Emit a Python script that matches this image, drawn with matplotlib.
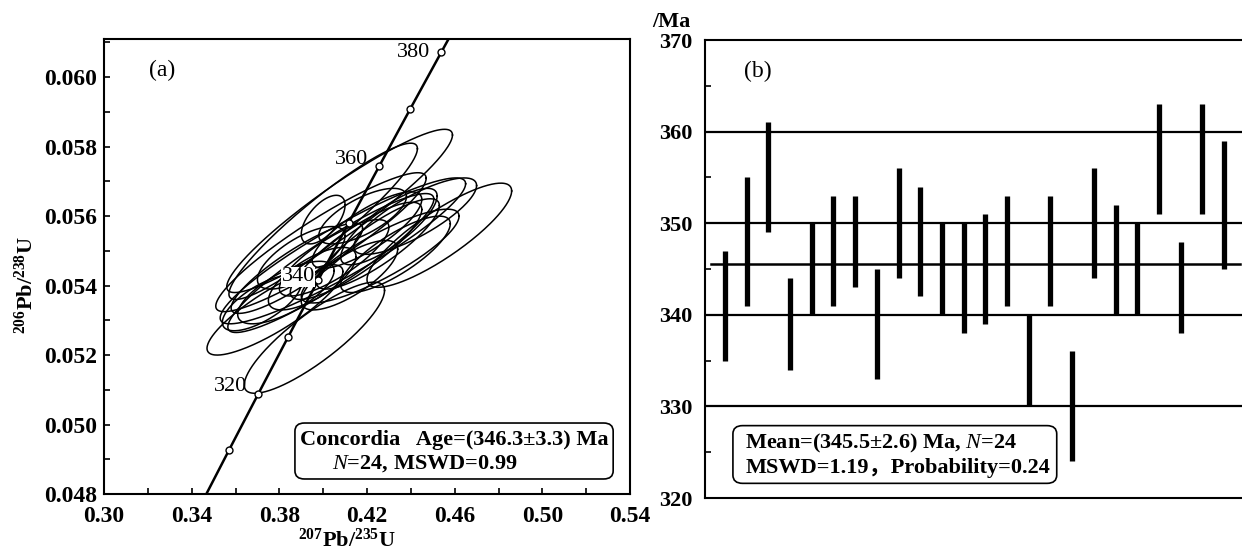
import numpy as np
import matplotlib
matplotlib.use("Agg")
import matplotlib.pyplot as plt
from matplotlib.patches import FancyBboxPatch
from matplotlib.ticker import MultipleLocator, FixedLocator, FormatStrFormatter

plt.rcParams['font.family'] = ['Liberation Serif', 'Noto Sans CJK SC', 'DejaVu Sans']
plt.rcParams['mathtext.fontset'] = 'custom'
plt.rcParams['mathtext.rm'] = 'Liberation Serif:bold'
plt.rcParams['mathtext.bf'] = 'Liberation Serif:bold'
plt.rcParams['mathtext.it'] = 'Liberation Serif:italic'

# ---------------- data ----------------
# concordia tick ages (Ma) and labelled ages
conc_marker_ages = [310, 320, 330, 340, 350, 360, 370, 380]
conc_label_ages = [320, 340, 360, 380]
lambda238 = 1.55125e-4   # decay constant, per Ma
lambda235 = 9.8485e-4    # decay constant, per Ma

# axis ticks
xa_ticks = [0.30, 0.34, 0.38, 0.42, 0.46, 0.50, 0.54]
ya_ticks = [0.048, 0.050, 0.052, 0.054, 0.056, 0.058, 0.060]
yb_ticks = [320, 330, 340, 350, 360, 370]

# error ellipses: centre x (207/235), centre y (206/238), half-range x, half-range y, correlation
ell_cx = [0.4075, 0.400, 0.399, 0.409, 0.4035, 0.453, 0.426, 0.396, 0.378, 0.400, 0.383, 0.372,
          0.420, 0.425, 0.415, 0.405, 0.430, 0.395, 0.412, 0.433, 0.388, 0.442, 0.418, 0.390]
ell_cy = [0.05615, 0.05585, 0.05525, 0.0550, 0.05465, 0.05545, 0.05485, 0.0525, 0.0533, 0.0559, 0.0538, 0.0535,
          0.0556, 0.0552, 0.0550, 0.0548, 0.0557, 0.0542, 0.0543, 0.0549, 0.0545, 0.0560, 0.0560, 0.0548]
ell_rx = [0.0515, 0.043, 0.048, 0.056, 0.047, 0.033, 0.036, 0.032, 0.031, 0.010, 0.022, 0.018,
          0.025, 0.028, 0.030, 0.025, 0.022, 0.020, 0.022, 0.025, 0.030, 0.028, 0.020, 0.020]
ell_ry = [0.00235, 0.00225, 0.0020, 0.0021, 0.0020, 0.0015, 0.00135, 0.0016, 0.0013, 0.0007, 0.0009, 0.0008,
          0.0011, 0.0013, 0.0014, 0.0011, 0.0011, 0.0009, 0.0010, 0.0011, 0.0013, 0.0011, 0.0008, 0.0009]
ell_rho = [0.93, 0.93, 0.92, 0.92, 0.92, 0.85, 0.85, 0.85, 0.85, 0.60, 0.70, 0.70,
           0.80, 0.85, 0.85, 0.80, 0.80, 0.70, 0.75, 0.80, 0.88, 0.80, 0.70, 0.70]

# weighted mean plot: age ranges (Ma)
spot_no = list(range(1, 25))
age_low = [335, 341, 349, 334, 340, 341, 343, 333, 344, 342, 340, 338,
           339, 341, 330, 341, 324, 344, 340, 340, 351, 338, 351, 345]
age_high = [347, 355, 361, 344, 350, 353, 353, 345, 356, 354, 350, 350,
            351, 353, 340, 353, 336, 356, 352, 350, 363, 348, 363, 359]
mean_age = 345.5
grid_ages = [330, 340, 350, 360]

# ---------------- figure ----------------
fig = plt.figure(figsize=(12.42, 5.56), dpi=100)
axa = fig.add_axes([104/1242, 1-494/556, 526/1242, 455/556])
axb = fig.add_axes([705/1242, 1-498/556, 537/1242, 458/556])

# ---- panel (a)
t = np.linspace(290, 400, 400)
axa.plot(np.exp(lambda235*t)-1, np.exp(lambda238*t)-1, color='black', lw=1.8, zorder=3)
ma = np.array(conc_marker_ages, dtype=float)
axa.plot(np.exp(lambda235*ma)-1, np.exp(lambda238*ma)-1, 'o', ms=5, mfc='white', mec='black',
         mew=1.0, zorder=5)

tt = np.linspace(0, 2*np.pi, 240)
for cx, cy, rx, ry, r in zip(ell_cx, ell_cy, ell_rx, ell_ry, ell_rho):
    xs = cx + rx*np.cos(tt)
    ys = cy + ry*(r*np.cos(tt) + np.sqrt(1-r*r)*np.sin(tt))
    axa.plot(xs, ys, color='black', lw=1.1, zorder=2)

for a in conc_label_ages:
    x = np.exp(lambda235*a)-1
    y = np.exp(lambda238*a)-1
    kw = {}
    dx, dy = -0.005, 0.0002
    if a == 340:
        kw['bbox'] = dict(facecolor='white', edgecolor='none', pad=0.3)
        dx, dy = -0.0015, 0.0001
    if a == 380:
        dy = 0.0
    axa.text(x+dx, y+dy, str(a), ha='right', va='center', fontsize=16, zorder=6, **kw)

axa.set_xlim(0.30, 0.54)
axa.set_ylim(0.048, 0.0611)
axa.xaxis.set_major_locator(FixedLocator(xa_ticks))
axa.xaxis.set_minor_locator(MultipleLocator(0.02))
axa.yaxis.set_major_locator(FixedLocator(ya_ticks))
axa.yaxis.set_minor_locator(MultipleLocator(0.001))
axa.xaxis.set_major_formatter(FormatStrFormatter('%.2f'))
axa.yaxis.set_major_formatter(FormatStrFormatter('%.3f'))
axa.tick_params(which='both', direction='in', length=4, width=1.2, top=False, right=False,
                labelsize=17)
axa.tick_params(axis='x', pad=9)
axa.tick_params(axis='y', pad=5)
for lab in axa.get_xticklabels() + axa.get_yticklabels():
    lab.set_fontweight('bold')
for s in axa.spines.values():
    s.set_linewidth(1.5)
axa.set_xlabel(r'$^{207}$Pb/$^{235}$U', fontsize=16, fontweight='bold')
axa.xaxis.set_label_coords(0.462, -0.076)
axa.set_ylabel(r'$^{206}$Pb/$^{238}$U', fontsize=16, fontweight='bold')
axa.yaxis.set_label_coords(-0.125, 0.46)
axa.text(0.085, 0.93, '(a)', transform=axa.transAxes, fontsize=17, ha='left', va='center')

axa.add_patch(FancyBboxPatch((0.363, 0.033), 0.605, 0.123, boxstyle='round,pad=0,rounding_size=0.018',
                             transform=axa.transAxes, facecolor='white', edgecolor='black', lw=1.2,
                             zorder=7))
axa.text(0.666, 0.118, 'Concordia   Age=(346.3±3.3) Ma', transform=axa.transAxes, ha='center',
         va='center', fontsize=16, fontweight='bold', zorder=8)
axa.text(0.61, 0.066, r'$\mathit{N}$=24, MSWD=0.99', transform=axa.transAxes, ha='center',
         va='center', fontsize=16, fontweight='bold', zorder=8)

# ---- panel (b)
for g in grid_ages:
    axb.axhline(g, color='black', lw=1.6, zorder=1)
axb.plot([0.35, 24.75], [mean_age, mean_age], color='black', lw=1.8, zorder=2)
axb.vlines(spot_no, age_low, age_high, color='black', lw=3.8, zorder=3)
axb.set_xlim(0.08, 24.83)
axb.set_ylim(320, 370)
axb.yaxis.set_major_locator(FixedLocator(yb_ticks))
axb.yaxis.set_minor_locator(MultipleLocator(5))
axb.set_xticks([])
axb.tick_params(which='both', direction='in', length=4, width=1.2, right=False, labelsize=16, pad=9)
for lab in axb.get_yticklabels():
    lab.set_fontweight('bold')
for s in axb.spines.values():
    s.set_linewidth(1.5)
axb.spines['right'].set_visible(False)
axb.text(-0.098, 1.018, '/Ma', transform=axb.transAxes, fontsize=16, fontweight='bold',
         ha='left', va='bottom')
axb.text(2.5, 366.6, '(b)', fontsize=17, ha='center', va='center')

axb.add_patch(FancyBboxPatch((0.052, 0.032), 0.603, 0.126, boxstyle='round,pad=0,rounding_size=0.018',
                             transform=axb.transAxes, facecolor='white', edgecolor='black', lw=1.2,
                             zorder=7))
axb.text(0.075, 0.118, r'Mean=(345.5±2.6) Ma, $\mathit{N}$=24', transform=axb.transAxes, ha='left',
         va='center', fontsize=16, fontweight='bold', zorder=8)
axb.text(0.075, 0.066, 'MSWD=1.19，Probability=0.24', transform=axb.transAxes, ha='left',
         va='center', fontsize=16, fontweight='bold', zorder=8)

fig.savefig('out.png', dpi=100)
